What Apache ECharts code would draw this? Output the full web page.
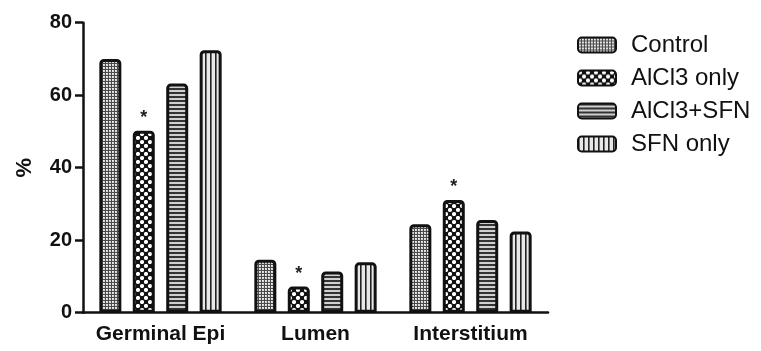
<!DOCTYPE html>
<html>
<head>
<meta charset="utf-8">
<script src="https://cdn.jsdelivr.net/npm/echarts@6/dist/echarts.min.js"></script>
<style>
  html, body { margin: 0; padding: 0; background: #fff; }
  #chart { width: 761px; height: 351px; }
</style>
</head>
<body>
<div id="chart"></div>
<script>
// Regions of the tissue section
const categories = ['Germinal Epi', 'Lumen', 'Interstitium'];

// Treatment groups
const groupNames = ['Control', 'AlCl3 only', 'AlCl3+SFN', 'SFN only'];

// Percentage values per group, in category order
const controlValues = [70.0, 14.6, 24.4];
const alcl3Values = [50.2, 7.2, 31.1];
const alcl3SfnValues = [63.2, 11.4, 25.6];
const sfnValues = [72.4, 13.9, 22.4];

// Groups marked as significantly different
const significanceMark = '*';

// Y axis ticks
const yMin = 0;
const yMax = 80;
const yStep = 20;

// Fill patterns drawn on small tiles
function tile(w, h, draw) {
  const c = document.createElement('canvas');
  c.width = w; c.height = h;
  const ctx = c.getContext('2d');
  ctx.fillStyle = '#fff';
  ctx.fillRect(0, 0, w, h);
  draw(ctx);
  return { image: c, repeat: 'repeat' };
}

const fineChecker = tile(3, 3, ctx => {
  ctx.fillStyle = '#4a4a4a';
  ctx.fillRect(0, 0, 3, 3);
  ctx.fillStyle = '#d8d8d8';
  ctx.fillRect(1, 1, 2, 2);
  ctx.fillStyle = '#f4f4f4';
  ctx.fillRect(1, 1, 1, 1);
});

const coarseChecker = tile(8, 8, ctx => {
  ctx.fillStyle = '#111';
  ctx.fillRect(0, 0, 8, 8);
  ctx.fillStyle = '#fff';
  ctx.beginPath();
  ctx.arc(2, 2, 2.1, 0, Math.PI * 2);
  ctx.arc(6, 6, 2.1, 0, Math.PI * 2);
  ctx.fill();
});

const hStripes = tile(4, 4, ctx => {
  ctx.fillStyle = '#d0d0d0';
  ctx.fillRect(0, 0, 4, 4);
  ctx.fillStyle = '#333';
  ctx.fillRect(0, 0, 4, 2);
});

const vStripes = tile(5, 4, ctx => {
  ctx.fillStyle = '#e8e8e8';
  ctx.fillRect(0, 0, 5, 4);
  ctx.fillStyle = '#222';
  ctx.fillRect(0, 0, 1.6, 4);
});

const fills = [fineChecker, coarseChecker, hStripes, vStripes];
const values = [controlValues, alcl3Values, alcl3SfnValues, sfnValues];
const FONT = '"Liberation Sans", Arial, sans-serif';
const INK = '#111';

const series = groupNames.map((name, i) => ({
  name: name,
  type: 'bar',
  data: values[i],
  barWidth: 22,
  barGap: '52%',
  itemStyle: {
    color: fills[i],
    borderColor: INK,
    borderWidth: 3,
    borderRadius: [3, 3, 0, 0]
  },
  label: i === 1 ? {
    show: true,
    position: 'top',
    distance: 4,
    formatter: significanceMark,
    fontFamily: FONT,
    fontSize: 18,
    fontWeight: 'bold',
    color: '#222'
  } : { show: false },
  emphasis: { disabled: true }
}));

const chart = echarts.init(document.getElementById('chart'), null, { renderer: 'canvas' });
chart.setOption({
  animation: false,
  backgroundColor: '#fff',
  grid: { left: 83, right: 213, top: 22.7, bottom: 38.3, containLabel: false },
  legend: {
    orient: 'vertical',
    left: 572,
    top: 28,
    itemWidth: 38,
    itemHeight: 15,
    itemGap: 9,
    icon: 'roundRect',
    textStyle: { fontFamily: FONT, fontSize: 24, color: INK, padding: [0, 0, 0, 10] },
    data: groupNames
  },
  xAxis: {
    type: 'category',
    data: categories,
    boundaryGap: true,
    axisLine: { lineStyle: { color: INK, width: 2.5 } },
    axisTick: { alignWithLabel: true, length: 6, lineStyle: { color: INK, width: 2 } },
    axisLabel: { interval: 0, fontFamily: FONT, fontSize: 21, fontWeight: 'bold', color: INK, margin: 11 }
  },
  yAxis: {
    type: 'value',
    min: yMin,
    max: yMax,
    interval: yStep,
    name: '%',
    nameLocation: 'middle',
    nameRotate: 90,
    nameGap: 47,
    nameTextStyle: { fontFamily: FONT, fontSize: 22, fontWeight: 'bold', color: INK },
    splitLine: { show: false },
    axisLine: { show: true, lineStyle: { color: INK, width: 2.5 } },
    axisTick: { show: true, inside: false, length: 8, lineStyle: { color: INK, width: 2.5 } },
    axisLabel: { fontFamily: FONT, fontSize: 20, fontWeight: 'bold', color: INK, margin: 11 }
  },
  series: series
});
</script>
</body>
</html>
